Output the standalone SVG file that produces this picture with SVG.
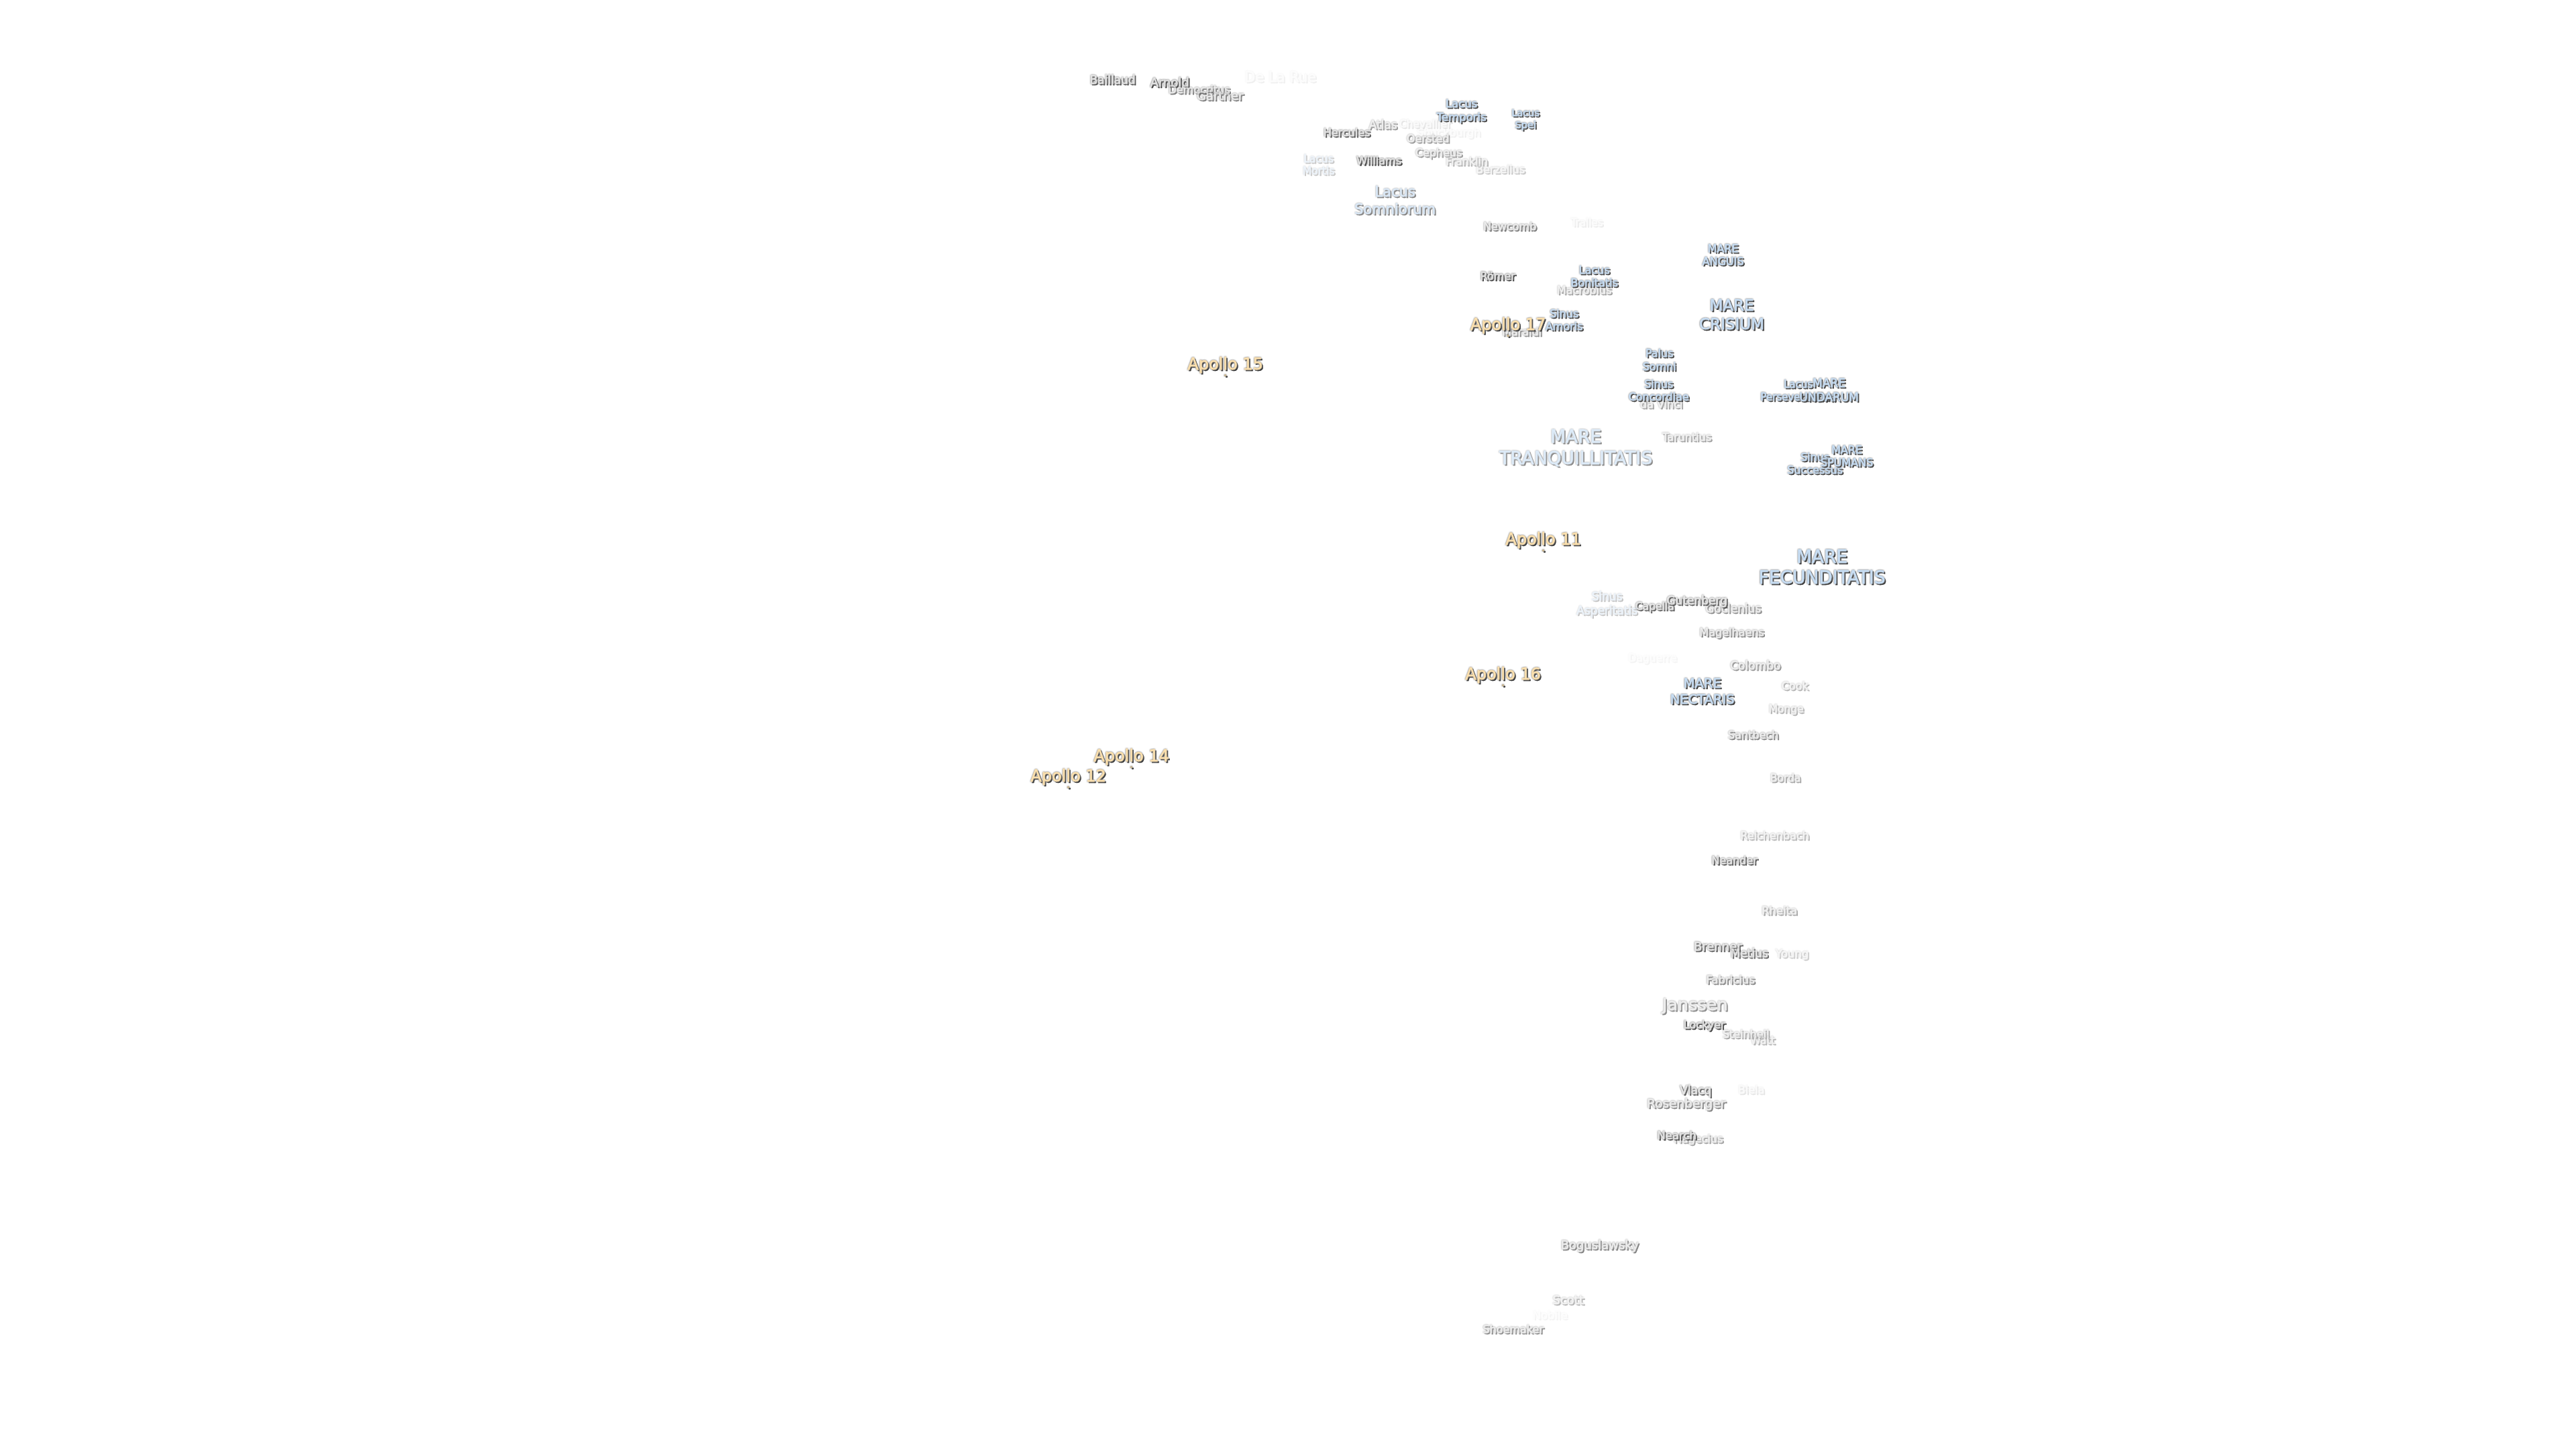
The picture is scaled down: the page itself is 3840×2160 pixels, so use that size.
<svg xmlns="http://www.w3.org/2000/svg" width="3840" height="2160" viewBox="0 0 3840 2160">
<style>
text{font-family:"DejaVu Sans",Verdana,sans-serif;text-anchor:middle;stroke-width:.5}
.c text{fill:#e4e4e4;stroke:#e4e4e4}
.m text{fill:#c8def4;stroke:#c8def4}
.a text{fill:#fbe0ae;stroke:#fbe0ae}
.c,.m,.a{filter:url(#s)}
.a circle{fill:#c8b48c}
</style>
<defs>
<filter id="s" x="-30%" y="-50%" width="160%" height="200%">
<feGaussianBlur in="SourceAlpha" stdDeviation="0.8" result="b"/>
<feComponentTransfer in="b" result="h"><feFuncA type="linear" slope="1.5"/></feComponentTransfer>
<feFlood flood-color="#808080"/><feComposite in2="h" operator="in" result="halo"/>
<feOffset in="SourceAlpha" dx="1.8" dy="1.8"/><feGaussianBlur stdDeviation="0.6" result="o"/>
<feFlood flood-color="#333333"/><feComposite in2="o" operator="in" result="dark"/>
<feGaussianBlur in="SourceGraphic" stdDeviation="0.3" result="t"/>
<feMerge><feMergeNode in="dark"/><feMergeNode in="halo"/><feMergeNode in="t"/></feMerge>
</filter>
</defs>
<g id="connectors"/>
<g id="labels" transform="translate(-0.5,-0.5)">
<g id="n-de-la-rue" class="c" opacity=".08"><text x="1909" y="122" font-size="21">De La Rue</text></g>
<g id="n-tralles" class="c" opacity=".1"><text x="2366" y="337" font-size="15">Tralles</text></g>
<g id="n-shuckburgh" class="c" opacity=".08"><text x="2160" y="203" font-size="16">Shuckburgh</text></g>
<g id="n-chevallier" class="c" opacity=".14"><text x="2125" y="190" font-size="15.5">Chevallier</text></g>
<g id="n-daguerre" class="c" opacity=".06"><text x="2464" y="986" font-size="15.5">Daguerre</text></g>
<g id="n-nobile" class="c" opacity=".06"><text x="2311" y="1966" font-size="16.5">Nobile</text></g>
<g id="n-biela" class="c" opacity=".14"><text x="2611" y="1630" font-size="16">Biela</text></g>
<g id="n-baillaud" class="c" opacity=".9"><text x="1659" y="125" font-size="17">Baillaud</text></g>
<g id="n-arnold" class="c"><text x="1744" y="129" font-size="18">Arnold</text></g>
<g id="n-democritus" class="c" opacity=".7"><text x="1788" y="139" font-size="16">Democritus</text></g>
<g id="n-gartner" class="c" opacity=".7"><text x="1819" y="149" font-size="18">Gärtner</text></g>
<g id="n-hercules" class="c" opacity=".9"><text x="2008" y="203" font-size="16">Hercules</text></g>
<g id="n-atlas" class="c" opacity=".55"><text x="2062" y="192" font-size="17">Atlas</text></g>
<g id="n-oersted" class="c" opacity=".55"><text x="2129" y="212" font-size="16">Oersted</text></g>
<g id="n-cepheus" class="c" opacity=".55"><text x="2145" y="233" font-size="16">Cepheus</text></g>
<g id="n-franklin" class="c" opacity=".42"><text x="2187" y="246" font-size="16">Franklin</text></g>
<g id="n-berzelius" class="c" opacity=".3"><text x="2237" y="258" font-size="16">Berzelius</text></g>
<g id="n-williams" class="c"><text x="2056" y="245" font-size="16">Williams</text></g>
<g id="n-newcomb" class="c" opacity=".7"><text x="2251" y="343" font-size="16">Newcomb</text></g>
<g id="n-romer" class="c"><text x="2233" y="417" font-size="16">Römer</text></g>
<g id="n-macrobius" class="c" opacity=".5"><text x="2362" y="438" font-size="16">Macrobius</text></g>
<g id="n-maraldi" class="c" opacity=".6"><text x="2269" y="500" font-size="16">Maraldi</text></g>
<g id="n-da-vinci" class="c" opacity=".5"><text x="2477" y="608" font-size="16">da Vinci</text></g>
<g id="n-taruntius" class="c" opacity=".5"><text x="2515" y="657" font-size="16">Taruntius</text></g>
<g id="n-capella" class="c" opacity=".85"><text x="2467" y="909" font-size="15.5">Capella</text></g>
<g id="n-goclenius" class="c" opacity=".6"><text x="2584" y="913" font-size="17">Goclenius</text></g>
<g id="n-gutenberg" class="c" opacity=".85"><text x="2530" y="901" font-size="17">Gutenberg</text></g>
<g id="n-magelhaens" class="c" opacity=".65"><text x="2582" y="948" font-size="16">Magelhaens</text></g>
<g id="n-colombo" class="c" opacity=".55"><text x="2617" y="998" font-size="17">Colombo</text></g>
<g id="n-cook" class="c" opacity=".4"><text x="2676" y="1028" font-size="16">Cook</text></g>
<g id="n-monge" class="c" opacity=".42"><text x="2663" y="1062" font-size="15.5">Monge</text></g>
<g id="n-santbech" class="c" opacity=".65"><text x="2614" y="1101" font-size="16">Santbech</text></g>
<g id="n-borda" class="c" opacity=".48"><text x="2662" y="1165" font-size="15.5">Borda</text></g>
<g id="n-reichenbach" class="c" opacity=".4"><text x="2646" y="1251" font-size="16">Reichenbach</text></g>
<g id="n-neander" class="c" opacity=".9"><text x="2586" y="1288" font-size="16">Neander</text></g>
<g id="n-rheita" class="c" opacity=".48"><text x="2653" y="1363" font-size="16.5">Rheita</text></g>
<g id="n-brenner" class="c" opacity=".85"><text x="2561" y="1417" font-size="18">Brenner</text></g>
<g id="n-metius" class="c" opacity=".8"><text x="2608" y="1427" font-size="17">Metius</text></g>
<g id="n-young" class="c" opacity=".28"><text x="2672" y="1427" font-size="16.5">Young</text></g>
<g id="n-fabricius" class="c" opacity=".65"><text x="2580" y="1466" font-size="16.5">Fabricius</text></g>
<g id="n-janssen" class="c" opacity=".6"><text x="2527" y="1506" font-size="25.5">Janssen</text></g>
<g id="n-lockyer" class="c"><text x="2541" y="1533" font-size="16">Lockyer</text></g>
<g id="n-steinheil" class="c" opacity=".48"><text x="2603" y="1547" font-size="16">Steinheil</text></g>
<g id="n-watt" class="c" opacity=".4"><text x="2628" y="1556" font-size="15.5">Watt</text></g>
<g id="n-vlacq" class="c" opacity=".85"><text x="2528" y="1631" font-size="17">Vlacq</text></g>
<g id="n-rosenberger" class="c" opacity=".65"><text x="2514" y="1651" font-size="18.5">Rosenberger</text></g>
<g id="n-hagecius" class="c" opacity=".5"><text x="2532" y="1703" font-size="16">Hagecius</text></g>
<g id="n-nearch" class="c" opacity=".95"><text x="2500" y="1698" font-size="16.5">Nearch</text></g>
<g id="n-boguslawsky" class="c" opacity=".65"><text x="2385" y="1862" font-size="18">Boguslawsky</text></g>
<g id="n-scott" class="c" opacity=".4"><text x="2338" y="1944" font-size="18">Scott</text></g>
<g id="n-shoemaker" class="c" opacity=".6"><text x="2256" y="1987" font-size="16">Shoemaker</text></g>
<g id="m-lacus-temporis" class="m"><text x="2179" y="160" font-size="16.5">Lacus</text><text x="2179" y="180.5" font-size="16.5">Temporis</text></g>
<g id="m-lacus-spei" class="m"><text x="2274.5" y="173" font-size="14.5">Lacus</text><text x="2274.5" y="191" font-size="14.5">Spei</text></g>
<g id="m-lacus-mortis" class="m" opacity=".3"><text x="1966" y="242" font-size="15.5">Lacus</text><text x="1966" y="260" font-size="15.5">Mortis</text></g>
<g id="m-lacus-somniorum" class="m" opacity=".65"><text x="2080" y="293" font-size="21">Lacus</text><text x="2080" y="319" font-size="21">Somniorum</text></g>
<g id="m-lacus-bonitatis" class="m"><text x="2377" y="408" font-size="16">Lacus</text><text x="2377" y="427" font-size="16">Bonitatis</text></g>
<g id="m-sinus-amoris" class="m"><text x="2332" y="473" font-size="16">Sinus</text><text x="2332" y="492" font-size="16">Amoris</text></g>
<g id="m-mare-anguis" class="m"><text x="2569" y="376" font-size="16">MARE</text><text x="2569" y="395" font-size="16">ANGUIS</text></g>
<g id="m-mare-crisium" class="m"><text x="2582" y="463" font-size="23">MARE</text><text x="2582" y="491" font-size="23">CRISIUM</text></g>
<g id="m-palus-somni" class="m"><text x="2474" y="532" font-size="16">Palus</text><text x="2474" y="552" font-size="16">Somni</text></g>
<g id="m-sinus-concordiae" class="m"><text x="2473" y="578" font-size="16">Sinus</text><text x="2473" y="597" font-size="16">Concordiae</text></g>
<g id="m-mare-tranquillitatis" class="m" opacity=".6"><text x="2349.5" y="660" font-size="26.5">MARE</text><text x="2349.5" y="692" font-size="26.5">TRANQUILLITATIS</text></g>
<g id="m-lacus-perseverantiae" class="m"><text x="2681" y="578" font-size="15">Lacus</text><text x="2681" y="597" font-size="15">Perseverantiae</text></g>
<g id="m-mare-undarum" class="m"><text x="2727" y="577" font-size="17">MARE</text><text x="2727" y="598" font-size="17">UNDARUM</text></g>
<g id="m-sinus-successus" class="m"><text x="2706" y="687" font-size="16">Sinus</text><text x="2706" y="706" font-size="16">Successus</text></g>
<g id="m-mare-spumans" class="m"><text x="2753.5" y="676" font-size="16">MARE</text><text x="2753.5" y="695" font-size="16">SPUMANS</text></g>
<g id="m-mare-fecunditatis" class="m"><text x="2716.5" y="839" font-size="26.5">MARE</text><text x="2716.5" y="870.5" font-size="26.5">FECUNDITATIS</text></g>
<g id="m-sinus-asperitatis" class="m" opacity=".32"><text x="2396" y="895" font-size="17">Sinus</text><text x="2396" y="916" font-size="17">Asperitatis</text></g>
<g id="m-mare-nectaris" class="m"><text x="2538" y="1025" font-size="19.5">MARE</text><text x="2538" y="1049" font-size="19.5">NECTARIS</text></g>
<g id="a-15" class="a"><text x="1827" y="551" font-size="24">Apollo 15</text><circle cx="1827" cy="560" r="1.6"/></g>
<g id="a-17" class="a"><text x="2248.5" y="492" font-size="24">Apollo 17</text><circle cx="2248.5" cy="501" r="1.6"/></g>
<g id="a-11" class="a"><text x="2301" y="812" font-size="24">Apollo 11</text><circle cx="2301" cy="821" r="1.6"/></g>
<g id="a-16" class="a"><text x="2241" y="1013" font-size="24">Apollo 16</text><circle cx="2241" cy="1022" r="1.6"/></g>
<g id="a-14" class="a"><text x="1687" y="1135" font-size="24">Apollo 14</text><circle cx="1687" cy="1144" r="1.6"/></g>
<g id="a-12" class="a"><text x="1593" y="1165" font-size="24">Apollo 12</text><circle cx="1593" cy="1174" r="1.6"/></g>
</g>
</svg>
